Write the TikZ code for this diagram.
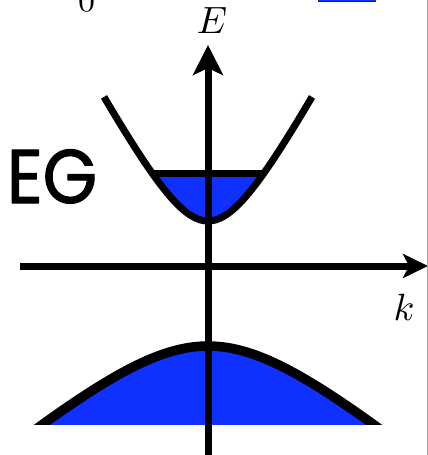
\documentclass[tikz,border=0pt]{standalone}
\usepackage{fontspec}
\newfontfamily\egfont{Poppins}[FakeBold=1.6]
\usetikzlibrary{arrows.meta}
\definecolor{bandblue}{RGB}{16,48,255}
\definecolor{bardark}{RGB}{20,30,140}
\begin{document}
\begin{tikzpicture}[x=1pt,y=-1pt,line join=round,
  band/.style={line width=7pt},
  vband/.style={line width=9.5pt},
  yaxis/.style={line width=7pt,-{Stealth[length=30pt,width=30pt,inset=7pt]}},
  xaxis/.style={line width=7pt,-{Stealth[length=25pt,width=24pt,inset=6pt]}},
  lbl/.style={inner sep=0pt,scale=3.8}]
\useasboundingbox (0,0) rectangle (428,455);
\clip (0,0) rectangle (428,455);
% cropped fragments at the top
\node[anchor=base,inner sep=0pt,scale=3.4] (zero) at (86.5,12) {0};
\draw[draw=bardark,fill=bandblue,line width=1pt] (318,-10) rectangle (375,1.5);
% conduction band
\fill[bandblue] plot[domain=-56:56,samples=60] ({208+\x},{221-89.5*(sqrt(1+(\x/48)^2)-1)}) -- cycle;
\draw[band] plot[domain=-104:104,samples=100] ({208+\x},{221-89.5*(sqrt(1+(\x/48)^2)-1)});
\coordinate (fl) at (152,173);
\coordinate (fr) at (264,173);
\draw[band] (fl) -- (fr);
% valence band
\begin{scope}
\clip (0,0) rectangle (428,424);
\fill[bandblue] plot[domain=-180:180,samples=100] ({208+\x},{346+84*(sqrt(1+(\x/100)^2)-1)}) -- cycle;
\draw[vband] plot[domain=-180:180,samples=100] ({208+\x},{346+84*(sqrt(1+(\x/100)^2)-1)});
\end{scope}
% axes
\coordinate (ybot) at (208,460);
\coordinate (ytop) at (208,45);
\draw[yaxis] (ybot) -- (ytop);
\coordinate (xl) at (20,266);
\coordinate (xr) at (428,266);
\draw[xaxis] (xl) -- (xr);
% labels
\node[lbl] (E) at (212,21) {$E$};
\node[lbl] (k) at (404,307) {$k$};
\node[anchor=base,inner sep=0pt,xscale=0.92] (EG) at (52,203) {\egfont\fontsize{76}{80}\selectfont EG};
% right edge
\draw[gray!70,line width=1pt] (427.5,0) -- (427.5,455);
\end{tikzpicture}
\end{document}
